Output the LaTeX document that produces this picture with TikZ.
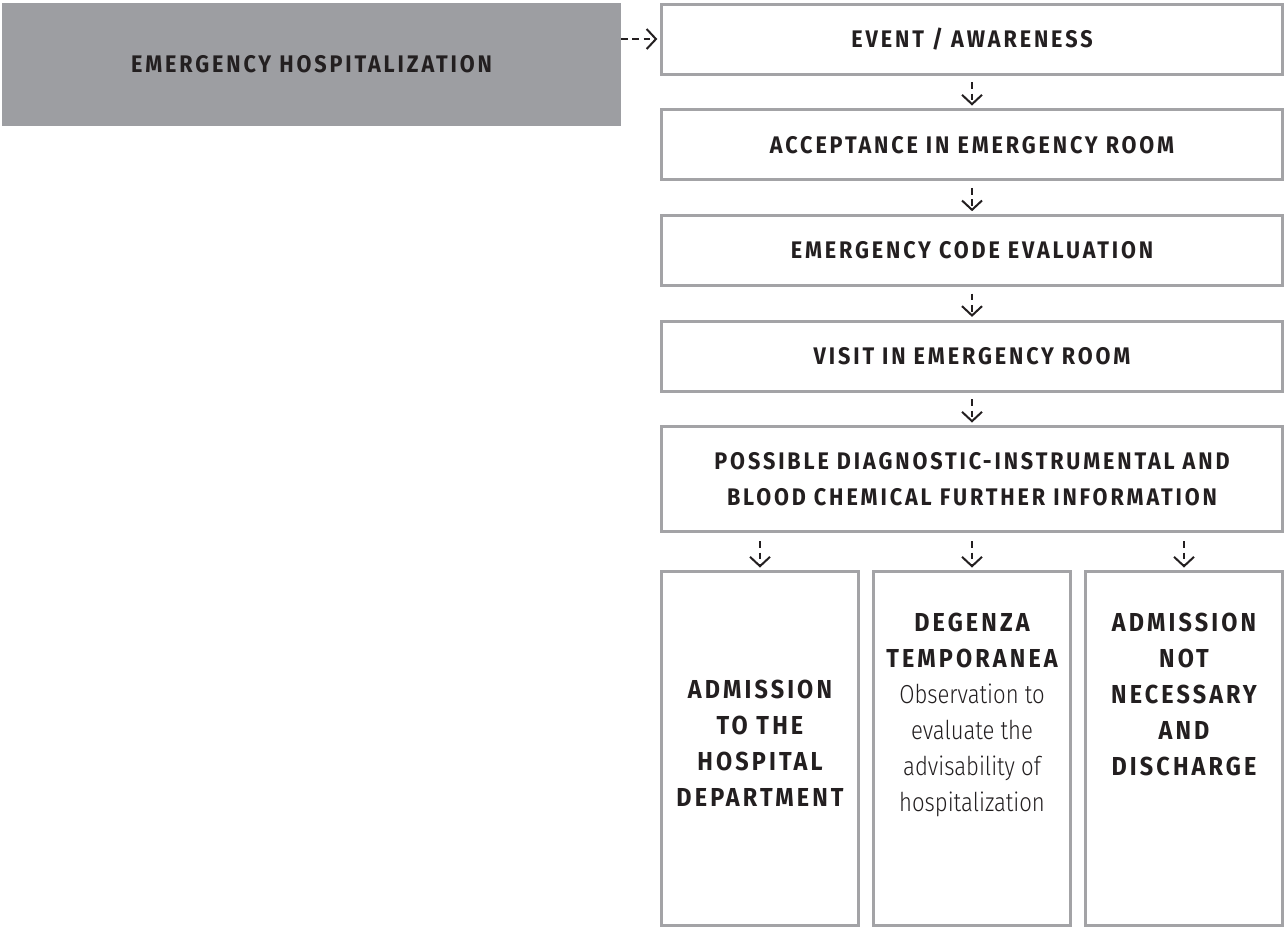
\documentclass[tikz,border=0pt]{standalone}
\usepackage{fontspec}
\setmainfont{Fira Sans}
\newfontfamily\headfont{Fira Sans}[LetterSpace=12,FakeStretch=0.9]
\newfontfamily\bodyfont{Fira Sans Light}[FakeStretch=0.85]
\usetikzlibrary{arrows.meta,positioning}

\definecolor{boxgray}{HTML}{A3A3A6}
\definecolor{fillgray}{HTML}{9D9EA2}
\definecolor{ink}{HTML}{231F20}

\newcommand{\bodyline}[1]{{\bodyfont\mdseries\fontsize{19.5}{27}\selectfont #1}}

\tikzset{
  stepbox/.style={draw=boxgray, line width=2.25pt, minimum width=465.75pt, minimum height=52.5pt, inner sep=0pt, align=center, text=ink, font=\headfont\bfseries\fontsize{18}{27}\selectfont},
  outbox/.style={draw=boxgray, line width=2.25pt, minimum width=147.75pt, minimum height=265.5pt, inner sep=0pt},
  outtext/.style={anchor=north, align=center, text=ink, inner sep=0pt, font=\headfont\bfseries\fontsize{19.5}{27}\selectfont},
  flow/.style={draw=ink, line width=1.5pt, dash pattern=on 5pt off 3.5pt, -{Straight Barb[length=7pt,width=15pt]}}
}

\begin{document}
\begin{tikzpicture}[node distance=24.5pt]
\useasboundingbox (0,0) rectangle (965.25pt,-696.75pt);

% main chain
\node[stepbox, anchor=north west] (event) at (495pt,-1.9pt) {EVENT / AWARENESS};
\node[stepbox, below=of event] (accept) {ACCEPTANCE IN EMERGENCY ROOM};
\node[stepbox, below=of accept] (code) {EMERGENCY CODE EVALUATION};
\node[stepbox, below=of code] (visit) {VISIT IN EMERGENCY ROOM};
\node[stepbox, below=of visit, minimum height=78.75pt] (diag) {POSSIBLE DIAGNOSTIC-INSTRUMENTAL AND\\BLOOD CHEMICAL FURTHER INFORMATION};

% title box
\node[fill=fillgray, minimum width=464.25pt, minimum height=92.25pt, inner sep=0pt, outer sep=0pt, text=ink,
      font=\headfont\bfseries\fontsize{18}{27}\selectfont,
      left=29.25pt of event.north west, anchor=north east] (hosp) {EMERGENCY HOSPITALIZATION};

% outcomes
\node[outbox, below=27.75pt of diag.south west, anchor=north west] (admit) {};
\node[outbox, right=9pt of admit] (temp) {};
\node[outbox, right=9pt of temp] (discharge) {};

\node[outtext, below=82pt of admit.north] (admittxt) {ADMISSION\\TO THE\\HOSPITAL\\DEPARTMENT};
\node[outtext, below=32pt of temp.north] (temptxt) {DEGENZA\\TEMPORANEA\\\bodyline{Observation to}\\\bodyline{evaluate the}\\\bodyline{advisability of}\\\bodyline{hospitalization}};
\node[outtext, below=32pt of discharge.north] (dischargetxt) {ADMISSION\\NOT\\NECESSARY\\AND\\DISCHARGE};

% connectors
\draw[flow, shorten >=2pt] (hosp.east |- event.west) -- (event.west);
\draw[flow, shorten <=5pt, shorten >=2pt] (event) -- (accept);
\draw[flow, shorten <=5pt, shorten >=2pt] (accept) -- (code);
\draw[flow, shorten <=5pt, shorten >=2pt] (code) -- (visit);
\draw[flow, shorten <=5pt, shorten >=2pt] (visit) -- (diag);
\draw[flow, shorten <=6pt, shorten >=2pt] (admit.north |- diag.south) -- (admit.north);
\draw[flow, shorten <=6pt, shorten >=2pt] (temp.north |- diag.south) -- (temp.north);
\draw[flow, shorten <=6pt, shorten >=2pt] (discharge.north |- diag.south) -- (discharge.north);
\end{tikzpicture}
\end{document}
